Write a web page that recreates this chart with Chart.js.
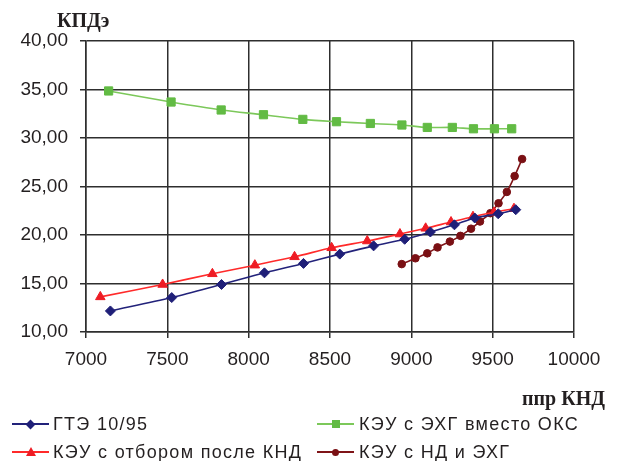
<!DOCTYPE html>
<html>
<head>
<meta charset="utf-8">
<script src="https://cdn.jsdelivr.net/npm/chart.js@4.4.0/dist/chart.umd.min.js"></script>
<style>
  body { margin: 0; background: #fff; }
  #wrap { position: relative; width: 617px; height: 461px; }
  #chart { position: absolute; left: 0; top: 0; }
  .title { position: absolute; font: bold 20px "Liberation Serif", serif; color: #231f20; line-height: 20px; white-space: nowrap; }
  .leg { position: absolute; font: 18px "Liberation Sans", Arial, sans-serif; letter-spacing: 1.3px; color: #231f20; line-height: 20px; white-space: nowrap; }
  .sym { position: absolute; width: 37px; height: 14px; }
  .sym .ln { position: absolute; left: 0; right: 0; top: 6px; height: 2px; }
  .sym .mk { position: absolute; left: 50%; top: 50%; }
</style>
</head>
<body>
<div id="wrap">
  <canvas id="chart" width="617" height="461"></canvas>
  <div class="title" style="left:57px; top:10px;">КПДэ</div>
  <div class="title" style="left:522px; top:388px;">ппр КНД</div>
  <div id="legend"></div>
</div>
<script>
  // x tick labels and y tick labels
  const xTickLabels = ["7000", "7500", "8000", "8500", "9000", "9500", "10000"];
  const yTickLabels = ["10,00", "15,00", "20,00", "25,00", "30,00", "35,00", "40,00"];

  // ГТЭ 10/95
  const gteX = [7150, 7527, 7833, 8097, 8337, 8560, 8768, 8959, 9117, 9265, 9390, 9534, 9642];
  const gteY = [12.17, 13.55, 14.90, 16.10, 17.07, 18.03, 18.88, 19.56, 20.31, 21.05, 21.75, 22.19, 22.61];

  // КЭУ с ЭХГ вместо ОКС
  const okxX = [7139, 7523, 7831, 8091, 8333, 8540, 8748, 8942, 9098, 9252, 9382, 9511, 9617];
  const okxY = [34.85, 33.71, 32.89, 32.40, 31.92, 31.68, 31.50, 31.34, 31.09, 31.09, 30.95, 30.95, 30.95];

  // КЭУ с отбором после КНД
  const otbX = [7088, 7471, 7777, 8038, 8282, 8510, 8729, 8930, 9088, 9244, 9379, 9508, 9631];
  const otbY = [13.62, 14.90, 16.00, 16.89, 17.75, 18.68, 19.38, 20.10, 20.69, 21.34, 21.89, 22.34, 22.71];

  // КЭУ с НД и ЭХГ
  const ndX = [8941, 9025, 9098, 9161, 9237, 9302, 9367, 9422, 9486, 9536, 9587, 9635, 9681];
  const ndY = [17.00, 17.60, 18.11, 18.72, 19.32, 19.91, 20.65, 21.39, 22.25, 23.27, 24.44, 26.07, 27.83];

  const toPts = (xs, ys) => xs.map((x, i) => ({ x: x, y: ys[i] }));

  const series = [
    { label: "ГТЭ 10/95", x: gteX, y: gteY, line: "#22227a", fill: "#1f1f78", style: "rectRot", r: 5 },
    { label: "КЭУ с ЭХГ вместо ОКС", x: okxX, y: okxY, line: "#7cc85a", fill: "#62bb44", style: "rect", r: 5.8 },
    { label: "КЭУ с отбором после КНД", x: otbX, y: otbY, line: "#ff2a2a", fill: "#ee1c24", style: "triangle", r: 5.5 },
    { label: "КЭУ с НД и ЭХГ", x: ndX, y: ndY, line: "#7f1418", fill: "#7a1014", style: "circle", r: 3.8 },
  ];

  const grid = {
    color: "#2e2e2e",
    lineWidth: 1.5,
    tickLength: 6,
    tickColor: "#2e2e2e",
    drawTicks: true,
  };

  const config = {
    type: "scatter",
    data: {
      datasets: series.map(s => ({
        label: s.label,
        data: toPts(s.x, s.y),
        showLine: true,
        tension: 0.3,
        borderColor: s.line,
        borderWidth: 1.6,
        backgroundColor: s.fill,
        pointStyle: s.style,
        pointRadius: s.r,
        pointBorderColor: s.fill,
        pointBorderWidth: 1,
        pointBackgroundColor: s.fill,
      })),
    },
    options: {
      responsive: false,
      animation: false,
      layout: {
        padding: { left: 0, top: 41, right: 43, bottom: 89 },
      },
      plugins: {
        legend: { display: false },
        tooltip: { enabled: false },
      },
      scales: {
        x: {
          type: "linear",
          min: 7000,
          max: 10000,
          afterBuildTicks: (scale) => {
            scale.ticks = xTickLabels.map(t => ({ value: Number(t) }));
          },
          afterFit: (scale) => { scale.height = 40; },
          ticks: {
            color: "#231f20",
            font: { family: "Liberation Sans", size: 19 },
            padding: 10,
            maxRotation: 0,
            callback: (v, i) => xTickLabels[i],
          },
          grid: grid,
          border: { display: true, color: "#2e2e2e", width: 1.5 },
        },
        y: {
          type: "linear",
          min: 10,
          max: 40,
          afterBuildTicks: (scale) => {
            scale.ticks = yTickLabels.map(t => ({ value: Number(t.replace(",", ".")) }));
          },
          afterFit: (scale) => { scale.width = 86; },
          ticks: {
            color: "#231f20",
            font: { family: "Liberation Sans", size: 19 },
            padding: 12,
            callback: (v, i) => yTickLabels[i],
          },
          grid: grid,
          border: { display: true, color: "#2e2e2e", width: 1.5 },
        },
      },
    },
  };

  new Chart(document.getElementById("chart").getContext("2d"), config);

  // legend as HTML, two columns
  const legendPos = [
    { sx: 12, tx: 53, cy: 424 },
    { sx: 317, tx: 359, cy: 424 },
    { sx: 12, tx: 53, cy: 452 },
    { sx: 317, tx: 359, cy: 452 },
  ];
  const markerCss = {
    rectRot: (c) => `width:7px;height:7px;margin:-3.5px 0 0 -3.5px;background:${c};transform:rotate(45deg);`,
    rect: (c) => `width:8px;height:8px;margin:-4px 0 0 -4px;background:${c};`,
    triangle: (c) => `width:0;height:0;margin:-5px 0 0 -5px;border-left:5px solid transparent;border-right:5px solid transparent;border-bottom:9px solid ${c};`,
    circle: (c) => `width:7px;height:7px;margin:-3.5px 0 0 -3.5px;background:${c};border-radius:50%;`,
  };
  const legend = document.getElementById("legend");
  [0, 1, 2, 3].forEach(i => {
    const s = series[i];
    const p = legendPos[i];
    const sym = document.createElement("div");
    sym.className = "sym";
    sym.style.left = p.sx + "px";
    sym.style.top = (p.cy - 7) + "px";
    sym.innerHTML = `<div class="ln" style="background:${s.line}"></div><div class="mk" style="${markerCss[s.style](s.fill)}"></div>`;
    legend.appendChild(sym);
    const t = document.createElement("div");
    t.className = "leg";
    t.style.left = p.tx + "px";
    t.style.top = (p.cy - 10) + "px";
    t.textContent = s.label;
    legend.appendChild(t);
  });
</script>
</body>
</html>
